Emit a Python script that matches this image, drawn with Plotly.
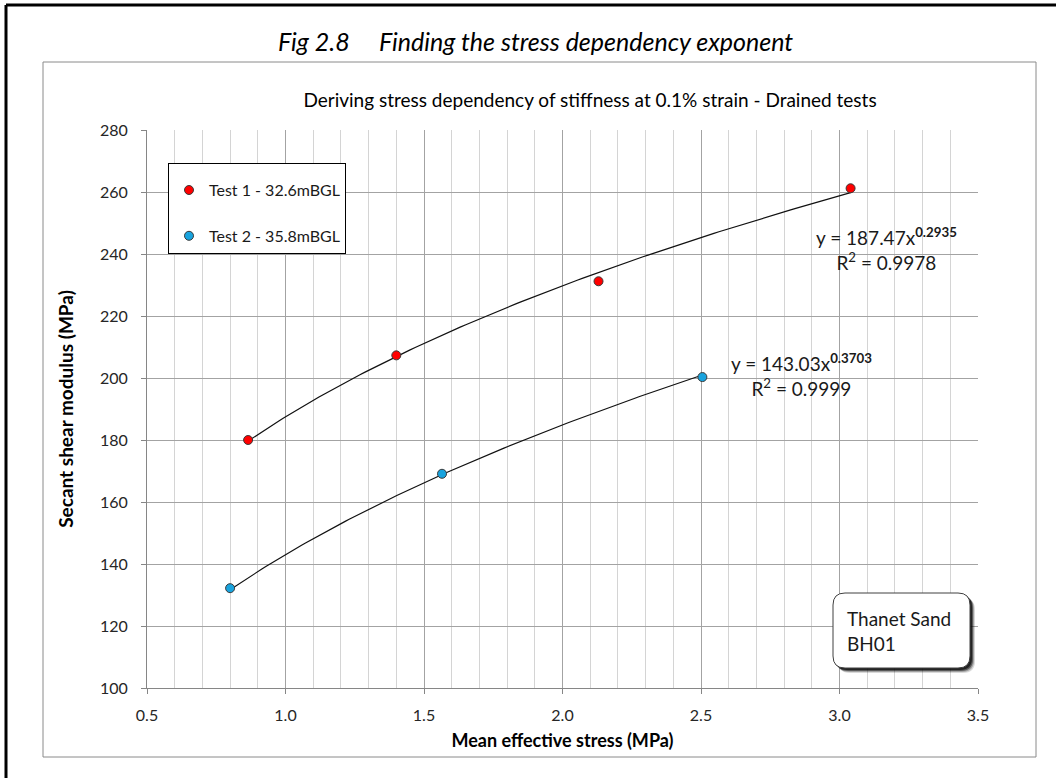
import numpy as np
import plotly.graph_objects as go

# ---- data -------------------------------------------------------------
test1_name = "Test 1 - 32.6mBGL"
test1_stress = [0.865, 1.40, 2.13, 3.04]          # mean effective stress (MPa)
test1_modulus = [180.0, 207.3, 231.2, 261.2]      # secant shear modulus (MPa)

test2_name = "Test 2 - 35.8mBGL"
test2_stress = [0.80, 1.565, 2.505]
test2_modulus = [132.2, 169.1, 200.3]

# power-law trendlines  G = a * p^b
fit1_a, fit1_b, fit1_r2 = 187.47, 0.2935, 0.9978
fit2_a, fit2_b, fit2_r2 = 143.03, 0.3703, 0.9999

x_ticks = [0.5, 1.0, 1.5, 2.0, 2.5, 3.0, 3.5]
y_ticks = [100, 120, 140, 160, 180, 200, 220, 240, 260, 280]

# ---- page geometry (pixels) -------------------------------------------
FIG_W, FIG_H = 1056, 778
PLOT_L, PLOT_R, PLOT_T, PLOT_B = 147, 978, 130, 688
PW, PH = PLOT_R - PLOT_L, PLOT_B - PLOT_T


def px(x):
    return (x - PLOT_L) / PW


def py(y):
    return (PLOT_B - y) / PH


FONT = "Lato, 'Open Sans', sans-serif"
RED = "#ff0000"
BLUE = "#18a3de"
EDGE = "#3a3a3a"

fig = go.Figure()


def trend(xs, a, b):
    xx = np.linspace(min(xs), max(xs), 120)
    return xx, a * xx ** b


for xs, a, b in [(test1_stress, fit1_a, fit1_b), (test2_stress, fit2_a, fit2_b)]:
    tx, ty = trend(xs, a, b)
    fig.add_trace(go.Scatter(x=tx, y=ty, mode="lines", showlegend=False,
                             line=dict(color="#111111", width=1.2),
                             hoverinfo="skip"))

fig.add_trace(go.Scatter(x=test1_stress, y=test1_modulus, mode="markers",
                         name=test1_name, legendgroup="t1",
                         marker=dict(size=9, color=RED,
                                     line=dict(color=EDGE, width=1))))
fig.add_trace(go.Scatter(x=test2_stress, y=test2_modulus, mode="markers",
                         name=test2_name, legendgroup="t2",
                         marker=dict(size=9, color=BLUE,
                                     line=dict(color=EDGE, width=1))))

# ---- decorations: outer frame, chart frame, note box ----------------------
shapes = []
# keep the right page edge clean
shapes.append(dict(type="rect", xref="paper", yref="paper",
                   x0=px(1046), y0=py(8), x1=px(1060), y1=py(790),
                   fillcolor="#ffffff", line=dict(width=0)))
# outer black page frame (top and left edges)
shapes.append(dict(type="line", xref="paper", yref="paper",
                   x0=px(6), y0=py(5), x1=px(1070), y1=py(5),
                   line=dict(color="#000000", width=3)))
shapes.append(dict(type="line", xref="paper", yref="paper",
                   x0=px(6), y0=py(5), x1=px(6), y1=py(790),
                   line=dict(color="#000000", width=3)))
# chart area frame
shapes.append(dict(type="rect", xref="paper", yref="paper",
                   x0=px(43), y0=py(62), x1=px(1036), y1=py(757),
                   line=dict(color="#8a8a8a", width=1), layer="below"))


def rounded_path(x0, y0, x1, y1, r):
    X0, X1 = px(x0), px(x1)
    Y0, Y1 = py(y0), py(y1)
    rx, ry = r / PW, r / PH
    return (f"M {X0 + rx} {Y0} L {X1 - rx} {Y0} Q {X1} {Y0} {X1} {Y0 - ry} "
            f"L {X1} {Y1 + ry} Q {X1} {Y1} {X1 - rx} {Y1} "
            f"L {X0 + rx} {Y1} Q {X0} {Y1} {X0} {Y1 + ry} "
            f"L {X0} {Y0 - ry} Q {X0} {Y0} {X0 + rx} {Y0} Z")


# soft drop shadow for the note box
for off, alpha in [(5, 0.15), (4, 0.25), (3, 0.45), (2, 0.6)]:
    shapes.append(dict(type="path", xref="paper", yref="paper",
                       path=rounded_path(833 + off, 593 + off, 970 + off, 668 + off, 12),
                       fillcolor=f"rgba(0,0,0,{alpha})", line=dict(width=0)))
shapes.append(dict(type="path", xref="paper", yref="paper",
                   path=rounded_path(833, 593, 970, 668, 12),
                   fillcolor="#ffffff", line=dict(color="#404040", width=1)))

annotations = [
    dict(text="<i>Fig 2.8&nbsp;&nbsp;&nbsp;&nbsp;&nbsp;Finding the stress dependency exponent</i>",
         xref="paper", yref="paper", x=px(535), y=py(41), showarrow=False,
         xanchor="center", yanchor="middle",
         font=dict(family=FONT, size=25, color="#000000")),
    dict(text=f"y = {fit1_a}x<sup><b>{fit1_b}</b></sup><br>R<sup>2</sup> = {fit1_r2}",
         x=3.171, y=(280 - (249 - 130) / 3.1), xref="x", yref="y",
         showarrow=False, xanchor="center", yanchor="middle", align="center",
         font=dict(family=FONT, size=19, color="#1a1a1a")),
    dict(text=f"y = {fit2_a}x<sup><b>{fit2_b}</b></sup><br>R<sup>2</sup> = {fit2_r2}",
         x=2.861, y=(280 - (375 - 130) / 3.1), xref="x", yref="y",
         showarrow=False, xanchor="center", yanchor="middle", align="center",
         font=dict(family=FONT, size=19, color="#1a1a1a")),
    dict(text="Thanet Sand<br>BH01", xref="paper", yref="paper",
         x=px(845), y=py(631), showarrow=False, xanchor="left",
         yanchor="middle", align="left",
         font=dict(family=FONT, size=19, color="#1a1a1a")),
]

axis_common = dict(showline=True, linecolor="#868686", linewidth=1,
                   ticks="outside", ticklen=5, tickcolor="#868686",
                   showgrid=True, gridcolor="#a3a3a3", gridwidth=1,
                   zeroline=False, mirror=False,
                   tickfont=dict(family=FONT, size=16, color="#262626"))

fig.update_layout(
    width=FIG_W, height=FIG_H, autosize=False,
    margin=dict(l=PLOT_L, r=FIG_W - PLOT_R, t=PLOT_T, b=FIG_H - PLOT_B, pad=0),
    paper_bgcolor="#ffffff", plot_bgcolor="#ffffff",
    title=dict(text="Deriving stress dependency of stiffness at 0.1% strain - Drained tests",
               x=590 / FIG_W, xanchor="center", y=1 - 100 / FIG_H, yanchor="middle",
               font=dict(family=FONT, size=19, color="#000000")),
    xaxis=dict(range=[0.5, 3.5], tickvals=x_ticks,
               ticktext=[f"{v:.1f}" for v in x_ticks],
               minor=dict(dtick=0.1, showgrid=True, gridcolor="#d4d4d4"),
               title=dict(text="<b>Mean effective stress (MPa)</b>", standoff=11,
                          font=dict(family=FONT, size=18, color="#000000")),
               ticklabelstandoff=8, **axis_common),
    yaxis=dict(range=[100, 280], tickvals=y_ticks,
               title=dict(text="<b>Secant shear modulus (MPa)</b>", standoff=21,
                          font=dict(family=FONT, size=19, color="#000000")),
               ticklabelstandoff=10, **axis_common),
    legend=dict(x=px(168), y=py(163), xanchor="left", yanchor="top",
                bgcolor="#ffffff", bordercolor="#000000", borderwidth=1,
                font=dict(family=FONT, size=16, color="#1a1a1a"),
                title=dict(text="&nbsp;", font=dict(size=7)),
                traceorder="grouped", tracegroupgap=22),
    shapes=shapes,
    annotations=annotations,
    showlegend=True,
)

fig.write_html("out.html")
